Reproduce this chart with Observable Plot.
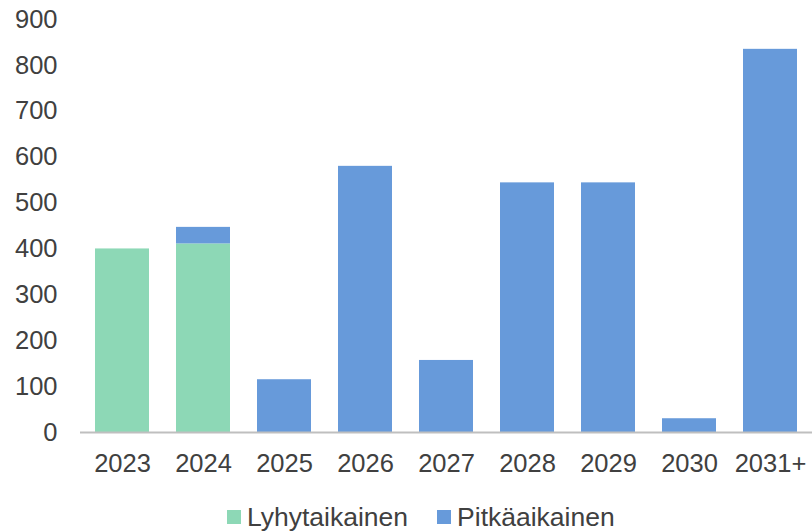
<!DOCTYPE html>
<html>
<head>
<meta charset="utf-8">
<script src="https://cdn.jsdelivr.net/npm/d3@7"></script>
<script src="https://cdn.jsdelivr.net/npm/@observablehq/plot@0.6"></script>
<style>
  body { margin: 0; background: #fff; font-family: "Liberation Sans", Arial, sans-serif; }
  #chart { width: 812px; position: relative; }
  .legend { display: flex; align-items: center; padding-left: 227px; margin-top: 22px; font-size: 26.5px; color: #404040; line-height: 30px; }
  .legend .sw { width: 14px; height: 14px; display: inline-block; margin-right: 6px; }
  .legend .item { display: flex; align-items: center; }
</style>
</head>
<body>
<div id="chart"></div>
<script>
const years = ["2023", "2024", "2025", "2026", "2027", "2028", "2029", "2030", "2031+"];
const shortTerm = [400, 411, 0, 0, 0, 0, 0, 0, 0];      // Lyhytaikainen
const longTerm  = [0, 36, 115, 580, 157, 544, 544, 30, 835]; // Pitkäaikainen
const seriesNames = ["Lyhytaikainen", "Pitkäaikainen"];
const seriesColors = ["#8dd8b6", "#679ada"];
const yTicks = [0, 100, 200, 300, 400, 500, 600, 700, 800, 900];

const rows = [];
years.forEach((y, i) => {
  rows.push({year: y, series: seriesNames[0], value: shortTerm[i]});
  rows.push({year: y, series: seriesNames[1], value: longTerm[i]});
});

const chart = Plot.plot({
  width: 812,
  height: 480,
  marginTop: 19,
  marginBottom: 48,
  marginLeft: 80,
  marginRight: 0,
  style: { fontFamily: "'Liberation Sans', Arial, sans-serif", fontSize: "25.5px", color: "#404040", background: "#fff" },
  x: { domain: years, paddingInner: 0.336, paddingOuter: 0.168, label: null },
  y: { domain: [0, 900], label: null },
  color: { domain: seriesNames, range: seriesColors },
  marks: [
    Plot.barY(rows, { x: "year", y: "value", fill: "series", order: seriesNames }),
    Plot.ruleY([0], { stroke: "#bfbfbf", strokeWidth: 2 }),
    Plot.axisY({ ticks: yTicks, tickSize: 0, tickPadding: 23, label: null }),
    Plot.axisX({ tickSize: 0, tickPadding: 21, label: null })
  ]
});
document.getElementById("chart").appendChild(chart);

const legend = document.createElement("div");
legend.className = "legend";
seriesNames.forEach((name, i) => {
  const item = document.createElement("span");
  item.className = "item";
  if (i > 0) item.style.marginLeft = "29px";
  const sw = document.createElement("span");
  sw.className = "sw";
  sw.style.background = seriesColors[i];
  item.appendChild(sw);
  item.appendChild(document.createTextNode(name));
  legend.appendChild(item);
});
document.getElementById("chart").appendChild(legend);
</script>
</body>
</html>
